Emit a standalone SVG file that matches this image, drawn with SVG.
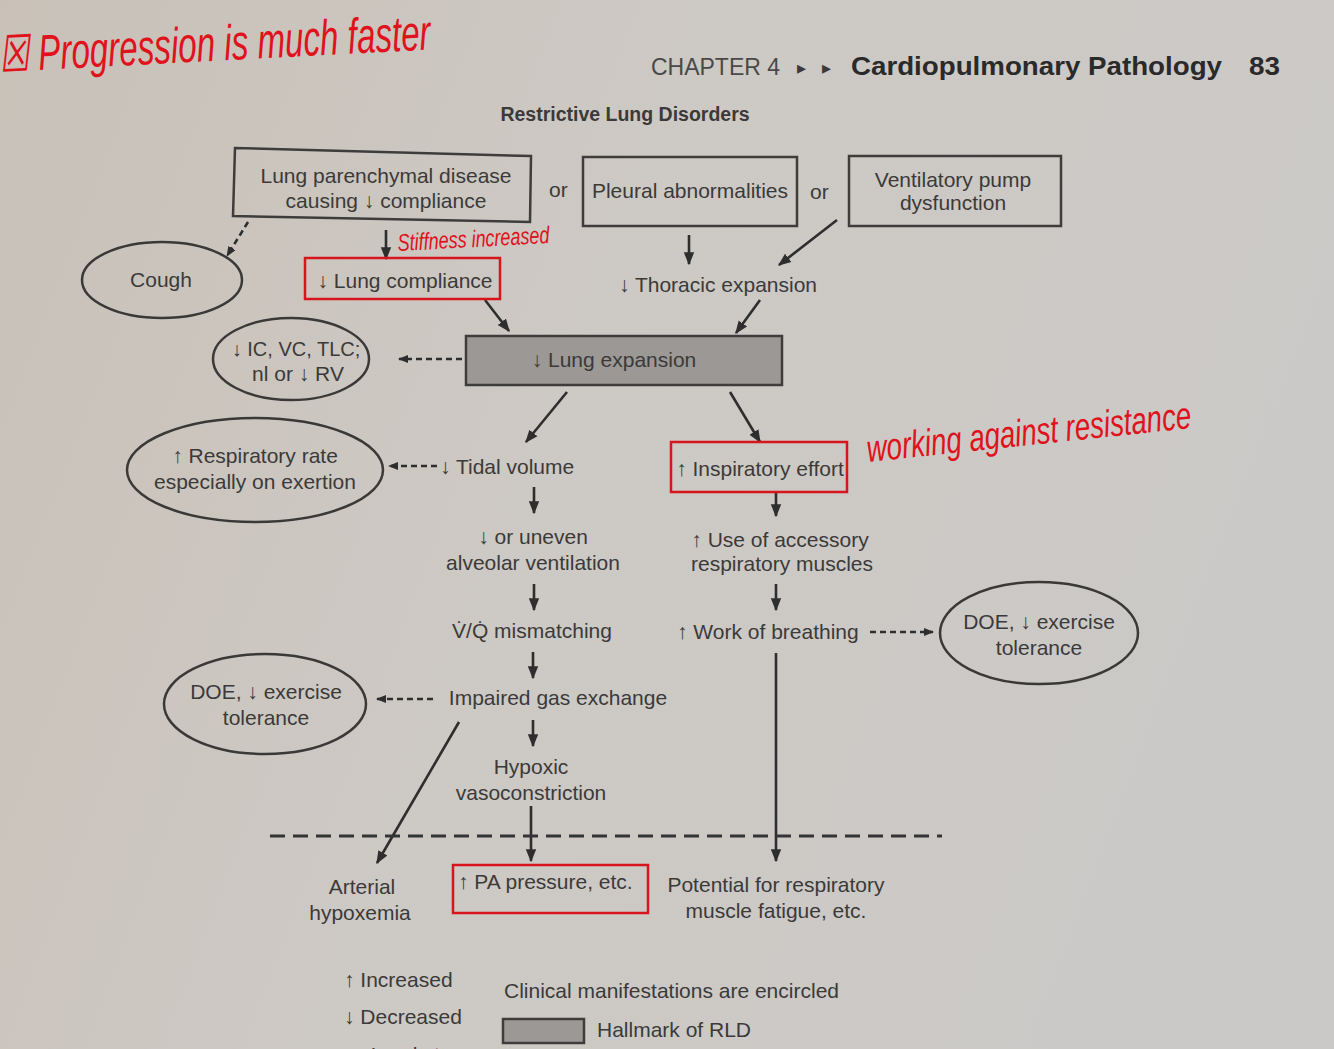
<svg xmlns="http://www.w3.org/2000/svg" width="1334" height="1049" viewBox="0 0 1334 1049">
<defs>
<linearGradient id="bg" x1="0" y1="0" x2="1" y2="0.3">
<stop offset="0" stop-color="#c9c1b8"/>
<stop offset="0.5" stop-color="#cdc9c4"/>
<stop offset="1" stop-color="#cbc9c7"/>
</linearGradient>
<marker id="ah" viewBox="0 0 10 10" refX="9" refY="5" markerWidth="5" markerHeight="5" orient="auto-start-reverse" markerUnits="strokeWidth">
<path d="M0,1 L10,5 L0,9 z" fill="#2e2e2e"/>
</marker>
<marker id="ahs" viewBox="0 0 10 10" refX="9" refY="5" markerWidth="4" markerHeight="4" orient="auto" markerUnits="strokeWidth">
<path d="M0,1 L10,5 L0,9 z" fill="#2e2e2e"/>
</marker>
</defs>
<style>
text{font-family:"Liberation Sans",Arial,sans-serif;fill:#3b3a39;font-size:21px}
.c{text-anchor:middle}
.b{font-weight:bold}
.box{fill:none;stroke:#3e3d3c;stroke-width:2.5}
.ell{fill:none;stroke:#3a3938;stroke-width:2.5}
.red{fill:none;stroke:#d8141c;stroke-width:2.5}
.ar{stroke:#2e2e2e;stroke-width:2.6;fill:none;marker-end:url(#ah)}
.da{stroke:#2e2e2e;stroke-width:2.6;fill:none;stroke-dasharray:6 4;marker-end:url(#ahs)}
.hand{font-family:"Liberation Sans Narrow","Liberation Sans",sans-serif;font-style:italic;fill:#e0121c}
</style>
<rect x="0" y="0" width="1334" height="1049" fill="url(#bg)"/>

<g id="annotations">
<text class="hand" x="0" y="72" style="font-size:50px" textLength="432" lengthAdjust="spacingAndGlyphs" transform="rotate(-3 0 72)">☒ Progression is much faster</text>
<text class="hand" x="398" y="251" style="font-size:24px" textLength="152" lengthAdjust="spacingAndGlyphs" transform="rotate(-3 398 251)">Stiffness increased</text>
<text class="hand" x="868" y="462" style="font-size:38px" textLength="326" lengthAdjust="spacingAndGlyphs" transform="rotate(-6 868 462)">working against resistance</text>
</g>

<g id="header">
<text x="651" y="75" style="font-size:24px;fill:#4a4948" textLength="129" lengthAdjust="spacingAndGlyphs">CHAPTER 4</text>
<text x="797" y="74" style="font-size:18px">▸</text>
<text x="822" y="74" style="font-size:18px">▸</text>
<text x="851" y="75" class="b" style="font-size:25px;fill:#2a2a2a" textLength="371" lengthAdjust="spacingAndGlyphs">Cardiopulmonary Pathology</text>
<text x="1249" y="75" class="b" style="font-size:25px;fill:#2a2a2a" textLength="31" lengthAdjust="spacingAndGlyphs">83</text>
<text class="c b" x="625" y="121" style="font-size:19.5px">Restrictive Lung Disorders</text>
</g>

<g id="connectors">
<line class="da" x1="248" y1="222" x2="227" y2="256"/>
<line class="ar" x1="386" y1="230" x2="386" y2="259"/>
<line class="ar" x1="689" y1="235" x2="689" y2="264"/>
<line class="ar" x1="837" y1="220" x2="779" y2="265"/>
<line class="ar" x1="485" y1="300" x2="509" y2="331"/>
<line class="ar" x1="760" y1="300" x2="736" y2="333"/>
<line class="da" x1="462" y1="359" x2="399" y2="359"/>
<line class="ar" x1="567" y1="392" x2="526" y2="442"/>
<line class="ar" x1="730" y1="392" x2="760" y2="442"/>
<line class="da" x1="437" y1="466" x2="389" y2="466"/>
<line class="ar" x1="534" y1="487" x2="534" y2="513"/>
<line class="ar" x1="776" y1="492" x2="776" y2="516"/>
<line class="ar" x1="534" y1="584" x2="534" y2="610"/>
<line class="ar" x1="776" y1="584" x2="776" y2="610"/>
<line class="da" x1="870" y1="632" x2="933" y2="632"/>
<line class="ar" x1="533" y1="652" x2="533" y2="678"/>
<line class="da" x1="433" y1="699" x2="377" y2="699"/>
<line class="ar" x1="533" y1="720" x2="533" y2="746"/>
<line class="ar" x1="459" y1="722" x2="377" y2="863"/>
<line class="ar" x1="531" y1="806" x2="531" y2="861"/>
<line class="ar" x1="776" y1="653" x2="776" y2="861"/>
<line x1="270" y1="836" x2="942" y2="836" stroke="#343434" stroke-width="3" stroke-dasharray="15 8"/>
</g>

<g id="n-parenchymal">
<path class="box" d="M235,148 L531,156 L530,222 L233,216 Z"/>
<text class="c" x="386" y="183">Lung parenchymal disease</text>
<text class="c" x="386" y="208">causing ↓ compliance</text>
</g>
<text x="549" y="197">or</text>
<g id="n-pleural">
<rect class="box" x="583" y="157" width="214" height="69"/>
<text class="c" x="690" y="198">Pleural abnormalities</text>
</g>
<text x="810" y="199">or</text>
<g id="n-ventilatory">
<rect class="box" x="849" y="156" width="212" height="70"/>
<text class="c" x="953" y="187">Ventilatory pump</text>
<text class="c" x="953" y="210">dysfunction</text>
</g>
<g id="n-cough">
<ellipse class="ell" cx="162" cy="280" rx="80" ry="38"/>
<text class="c" x="161" y="287">Cough</text>
</g>
<g id="n-lungcompliance">
<rect class="red" x="305" y="258" width="195" height="41"/>
<text class="c" x="405" y="288">↓ Lung compliance</text>
</g>
<g id="n-thoracic">
<text class="c" x="718" y="292">↓ Thoracic expansion</text>
</g>
<g id="n-lungexpansion">
<rect x="466" y="336" width="316" height="49" fill="#9c9895" stroke="#3e3d3c" stroke-width="2.5"/>
<text class="c" x="614" y="367">↓ Lung expansion</text>
</g>
<g id="n-ic">
<ellipse class="ell" cx="291" cy="359" rx="78" ry="41"/>
<text class="c" x="296" y="356" style="font-size:20px">↓ IC, VC, TLC;</text>
<text class="c" x="298" y="381">nl or ↓ RV</text>
</g>
<g id="n-resprate">
<ellipse class="ell" cx="255" cy="470" rx="128" ry="52"/>
<text class="c" x="255" y="463">↑ Respiratory rate</text>
<text class="c" x="255" y="489">especially on exertion</text>
</g>
<g id="n-tidal">
<text x="440" y="474">↓ Tidal volume</text>
</g>
<g id="n-inspiratory">
<rect class="red" x="671" y="442" width="176" height="50"/>
<text class="c" x="760" y="476">↑ Inspiratory effort</text>
</g>
<g id="n-alveolar">
<text class="c" x="533" y="544">↓ or uneven</text>
<text class="c" x="533" y="570">alveolar ventilation</text>
</g>
<g id="n-accessory">
<text class="c" x="780" y="547">↑ Use of accessory</text>
<text class="c" x="782" y="571">respiratory muscles</text>
</g>
<g id="n-vq">
<text class="c" x="532" y="638">V̇/Q̇ mismatching</text>
</g>
<g id="n-work">
<text x="677" y="639">↑ Work of breathing</text>
</g>
<g id="n-doe-right">
<ellipse class="ell" cx="1039" cy="633" rx="99" ry="51"/>
<text class="c" x="1039" y="629">DOE, ↓ exercise</text>
<text class="c" x="1039" y="655">tolerance</text>
</g>
<g id="n-gas">
<text class="c" x="558" y="705">Impaired gas exchange</text>
</g>
<g id="n-doe-left">
<ellipse class="ell" cx="265" cy="704" rx="101" ry="50"/>
<text class="c" x="266" y="699">DOE, ↓ exercise</text>
<text class="c" x="266" y="725">tolerance</text>
</g>
<g id="n-hypoxic">
<text class="c" x="531" y="774">Hypoxic</text>
<text class="c" x="531" y="800">vasoconstriction</text>
</g>
<g id="n-arterial">
<text class="c" x="362" y="894">Arterial</text>
<text class="c" x="360" y="920">hypoxemia</text>
</g>
<g id="n-pa">
<rect class="red" x="453" y="865" width="195" height="48"/>
<text x="458" y="889">↑ PA pressure, etc.</text>
</g>
<g id="n-fatigue">
<text class="c" x="776" y="892">Potential for respiratory</text>
<text class="c" x="776" y="918">muscle fatigue, etc.</text>
</g>

<g id="legend">
<text x="344" y="987">↑ Increased</text>
<text x="344" y="1024">↓ Decreased</text>
<text x="344" y="1062">→ Leads to</text>
<text x="504" y="998">Clinical manifestations are encircled</text>
<rect x="503" y="1019" width="81" height="24" fill="#9c9895" stroke="#3e3d3c" stroke-width="2.5"/>
<text x="597" y="1037">Hallmark of RLD</text>
</g>
</svg>
